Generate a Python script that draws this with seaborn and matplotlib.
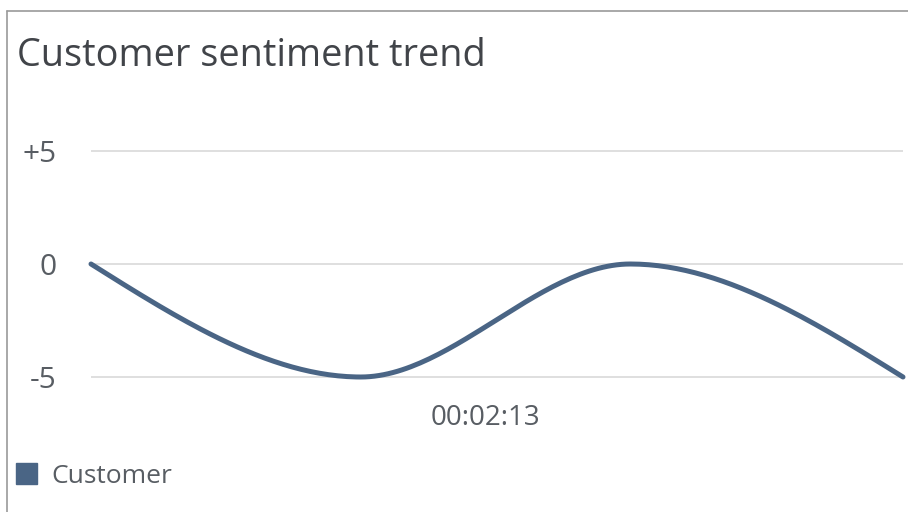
import numpy as np
import pandas as pd
import matplotlib
matplotlib.use("Agg")
import matplotlib.pyplot as plt
import seaborn as sns
from matplotlib.patches import Patch

# data: sentiment samples over the call (seconds)
time_s = [0, 91, 182, 274]
sentiment = [0, -5, 0, -5]
tick_pos = [133]
tick_labels = ["00:02:13"]
y_ticks = [5, 0, -5]
y_tick_labels = ["+5", "0", "-5"]
series_name = "Customer"

LINE = "#4a6585"
TEXT = "#585d63"


def monotone_curve(x, y, n=60):
    # d3 curveMonotoneX style smoothing, rendering only
    x = np.asarray(x, float)
    y = np.asarray(y, float)
    h = np.diff(x)
    s = np.diff(y) / h
    t = np.zeros(len(x))
    for i in range(1, len(x) - 1):
        if s[i - 1] * s[i] > 0:
            p = (s[i - 1] * h[i] + s[i] * h[i - 1]) / (h[i - 1] + h[i])
            t[i] = (np.sign(s[i - 1]) + np.sign(s[i])) * min(abs(s[i - 1]), abs(s[i]), 0.5 * abs(p))
    t[0] = (3 * s[0] - t[1]) / 2
    t[-1] = (3 * s[-1] - t[-2]) / 2
    xs, ys = [], []
    for i in range(len(x) - 1):
        u = np.linspace(0, 1, n)
        h00 = 2 * u**3 - 3 * u**2 + 1
        h10 = u**3 - 2 * u**2 + u
        h01 = -2 * u**3 + 3 * u**2
        h11 = u**3 - u**2
        xs.append(x[i] + u * h[i])
        ys.append(h00 * y[i] + h10 * h[i] * t[i] + h01 * y[i + 1] + h11 * h[i] * t[i + 1])
    return np.concatenate(xs), np.concatenate(ys)


cx, cy = monotone_curve(time_s, sentiment)
df = pd.DataFrame({"time": cx, "sentiment": cy})

sns.set_theme(style="white")
plt.rcParams["font.family"] = ["Open Sans", "DejaVu Sans"]

W, H = 908, 512
fig = plt.figure(figsize=(W / 100, H / 100), dpi=100)

# panel border (top and left)
fig.add_artist(plt.Line2D([7 / W, 7 / W], [0, 1 - 11 / H], color="#9a9a9a", lw=1.2))
fig.add_artist(plt.Line2D([7 / W, 1], [1 - 11 / H, 1 - 11 / H], color="#9a9a9a", lw=1.2))

px_unit = 113 / 5
top = 151 - 0.5 * px_unit
bot = 377 + 0.5 * px_unit
ax = fig.add_axes([91 / W, 1 - bot / H, (903 - 91) / W, (bot - top) / H])

sns.lineplot(data=df, x="time", y="sentiment", color=LINE, linewidth=3.6, ax=ax,
             sort=False, estimator=None)
for line in ax.lines:
    line.set_clip_on(False)
    line.set_solid_capstyle("round")

ax.set_xlim(time_s[0], time_s[-1])
ax.set_ylim(-5.5, 5.5)
ax.set_yticks(y_ticks)
ax.set_yticklabels(y_tick_labels)
ax.set_xticks(tick_pos)
ax.set_xticklabels(tick_labels)
for yv in y_ticks:
    ax.axhline(yv, color="#dcdcdc", lw=1.3, zorder=0)
ax.tick_params(axis="y", length=0, pad=25, labelsize=21.5, labelcolor=TEXT)
ax.tick_params(axis="x", length=0, pad=11, labelsize=20, labelcolor=TEXT)
ax.set_xlabel("")
ax.set_ylabel("")
sns.despine(ax=ax, left=True, bottom=True)

fig.text(17 / W, 1 - 56 / H, "Customer sentiment trend", fontsize=27.3, color="#414449",
         va="center", ha="left")

handle = Patch(facecolor=LINE, edgecolor=LINE)
fig.legend([handle], [series_name], loc="center left", bbox_to_anchor=(16 / W, 1 - 476 / H),
           frameon=False, fontsize=19, handlelength=0.8, handleheight=0.8,
           handletextpad=0.55, borderpad=0, borderaxespad=0, labelcolor=TEXT)

fig.savefig("out.png", dpi=100)
